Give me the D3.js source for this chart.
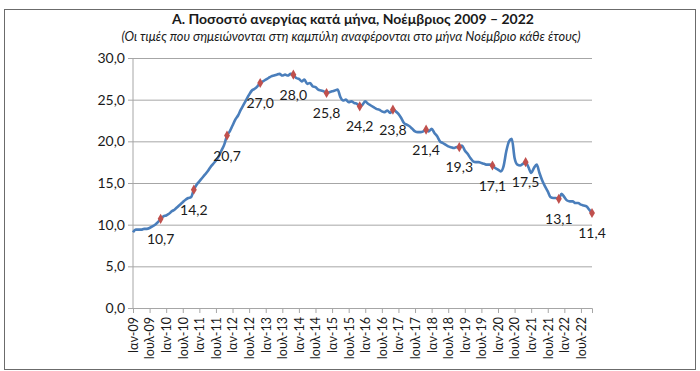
<!DOCTYPE html>
<html>
<head>
<meta charset="utf-8">
<script src="https://cdn.jsdelivr.net/npm/d3@7"></script>
<style>
  body { margin: 0; background: #fff; }
  text { font-family: Lato, "Open Sans", sans-serif; fill: #1a1a1a; }
</style>
</head>
<body>
<div id="chart-area"></div>
<script>
// monthly unemployment rate, Jan 2009 .. Nov 2022 (one row per year)
var rates = [
    9.1, 9.4, 9.4, 9.4, 9.5, 9.5, 9.6, 9.8, 10.0, 10.3, 10.7, 11.0,
    11.1, 11.3, 11.6, 11.8, 12.1, 12.4, 12.7, 13.0, 13.2, 13.3, 14.2, 14.8,
    15.2, 15.6, 16.0, 16.4, 16.9, 17.3, 17.7, 18.2, 18.9, 19.6, 20.7, 21.2,
    21.9, 22.6, 23.1, 23.8, 24.4, 25.0, 25.6, 26.1, 26.3, 26.6, 27.0, 27.2,
    27.4, 27.6, 27.8, 27.9, 28.0, 28.1, 27.9, 28.0, 27.9, 28.1, 28.0, 27.6,
    27.5, 27.2, 27.4, 26.9, 27.0, 26.6, 26.5, 26.2, 26.1, 26.0, 25.8, 25.9,
    26.0, 26.1, 26.2, 25.3, 24.9, 25.0, 24.7, 24.8, 24.6, 24.5, 24.2, 24.4,
    24.8, 24.5, 24.3, 24.1, 23.9, 23.8, 23.6, 23.5, 23.7, 23.4, 23.8, 23.6,
    23.3, 22.8, 22.2, 22.0, 21.8, 21.5, 21.2, 21.1, 21.1, 21.2, 21.4, 21.2,
    21.5, 21.0, 20.6, 20.0, 19.8, 19.6, 19.4, 19.3, 19.2, 19.3, 19.3, 19.5,
    18.9, 18.5, 18.0, 17.6, 17.5, 17.5, 17.4, 17.3, 17.2, 17.2, 17.1, 16.8,
    16.6, 16.4, 17.0, 18.8, 20.0, 20.3, 18.0, 17.2, 17.1, 17.3, 17.5, 16.9,
    16.2, 16.8, 17.2, 16.2, 15.3, 14.6, 14.0, 13.3, 13.2, 13.2, 13.1, 13.7,
    13.3, 12.9, 12.8, 12.8, 12.6, 12.6, 12.4, 12.3, 12.2, 11.8, 11.4
];

var tickLabels = [
    "Ιαν-09", "Ιουλ-09", "Ιαν-10", "Ιουλ-10", "Ιαν-11", "Ιουλ-11", "Ιαν-12",
    "Ιουλ-12", "Ιαν-13", "Ιουλ-13", "Ιαν-14", "Ιουλ-14", "Ιαν-15", "Ιουλ-15",
    "Ιαν-16", "Ιουλ-16", "Ιαν-17", "Ιουλ-17", "Ιαν-18", "Ιουλ-18", "Ιαν-19",
    "Ιουλ-19", "Ιαν-20", "Ιουλ-20", "Ιαν-21", "Ιουλ-21", "Ιαν-22", "Ιουλ-22"
];

var yTicks = [0, 5, 10, 15, 20, 25, 30];

var title = "Α. Ποσοστό ανεργίας κατά μήνα, Νοέμβριος 2009 – 2022";
var subtitle = "(Οι τιμές που σημειώνονται στη καμπύλη αναφέρονται στο μήνα Νοέμβριο κάθε έτους)";

var margin = { top: 58, right: 108, bottom: 63, left: 133 },
    width = 700 - margin.left - margin.right,
    height = 371 - margin.top - margin.bottom;

var fmt = (v) => d3.format(".1f")(v).replace(".", ",");

var svg = d3.select("#chart-area").append("svg")
    .attr("width", 700)
    .attr("height", 371);

// outer frame
svg.append("rect")
    .attr("x", 4.5).attr("y", 9.5)
    .attr("width", 691).attr("height", 360)
    .attr("fill", "none")
    .attr("stroke", "#6b6b6b");

svg.append("text")
    .attr("x", 353).attr("y", 24)
    .attr("text-anchor", "middle")
    .style("font-size", "14px")
    .style("font-weight", "bold")
    .text(title);

svg.append("text")
    .attr("x", 351).attr("y", 41)
    .attr("text-anchor", "middle")
    .style("font-size", "12.8px")
    .style("font-style", "italic")
    .text(subtitle);

var g = svg.append("g")
    .attr("transform", "translate(" + margin.left + ", " + margin.top + ")");

var x = d3.scaleLinear().domain([0, rates.length - 1]).range([0, width]);
var y = d3.scaleLinear().domain([0, 30]).range([height, 0]);

// gridlines + y axis
var yAxis = g.append("g")
    .call(d3.axisLeft(y).tickValues(yTicks).tickSize(-width).tickPadding(8).tickFormat(fmt));
yAxis.select(".domain").remove();
yAxis.selectAll(".tick line").attr("stroke", "#a6a6a6").attr("x1", -5);
yAxis.selectAll(".tick text").style("font-size", "14px").attr("fill", "#1a1a1a");

g.append("line")
    .attr("x1", 0).attr("x2", 0)
    .attr("y1", 0).attr("y2", height)
    .attr("stroke", "#a6a6a6");

// x axis, one tick every 6 months
var xAxis = g.append("g")
    .attr("transform", "translate(0, " + height + ")")
    .call(d3.axisBottom(x)
        .tickValues(tickLabels.map((d, i) => i * 6))
        .tickSize(5)
        .tickFormat((d, i) => tickLabels[i]));
xAxis.select(".domain").attr("stroke", "#a6a6a6");
xAxis.selectAll(".tick line").attr("stroke", "#a6a6a6");
xAxis.selectAll(".tick text")
    .style("font-size", "12.5px")
    .attr("fill", "#1a1a1a")
    .attr("transform", "rotate(-90)")
    .attr("text-anchor", "end")
    .attr("x", -9)
    .attr("y", 0)
    .attr("dy", "0.35em");

var line = d3.line()
    .x((d, i) => x(i))
    .y((d) => y(d))
    .curve(d3.curveMonotoneX);

g.append("path")
    .datum(rates)
    .attr("fill", "none")
    .attr("stroke", "#4a7ebb")
    .attr("stroke-width", 2.6)
    .attr("stroke-linejoin", "round")
    .attr("d", line);

// November points (index 10, 22, ...)
var novIdx = d3.range(10, rates.length, 12);

g.selectAll(".mark")
    .data(novIdx)
    .enter().append("path")
    .attr("class", "mark")
    .attr("d", d3.symbol().type(d3.symbolDiamond).size(30))
    .attr("transform", (i) => "translate(" + x(i) + "," + y(rates[i]) + ")")
    .attr("fill", "#c0504d");

g.selectAll(".lbl")
    .data(novIdx)
    .enter().append("text")
    .attr("class", "lbl")
    .attr("x", (i) => x(i))
    .attr("y", (i) => y(rates[i]) + 25)
    .attr("text-anchor", "middle")
    .style("font-size", "14px")
    .text((i) => fmt(rates[i]));
</script>
</body>
</html>
